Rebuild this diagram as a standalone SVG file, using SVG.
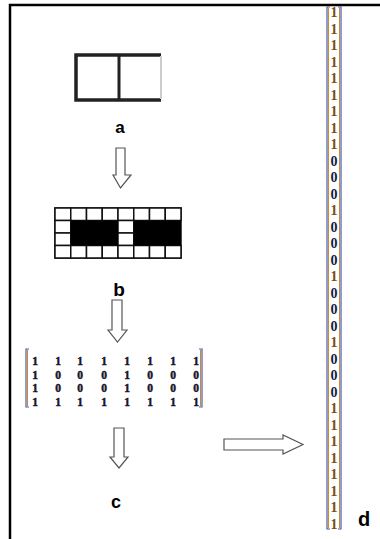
<svg xmlns="http://www.w3.org/2000/svg" width="380" height="539" viewBox="0 0 380 539">
<style>
.lbl{font-family:"Liberation Sans",Arial,sans-serif;font-weight:bold;fill:#000}
.dg{font-family:"Liberation Serif","Times New Roman",serif;font-weight:bold;font-size:14px;text-anchor:middle}
.dm{font-family:"Liberation Serif","Times New Roman",serif;font-weight:bold;font-size:11.5px;text-anchor:middle;fill:#15152a;stroke:#15152a;stroke-width:0.45}
.o{fill:#7a4c14}
.z{fill:#0e1e48}
.arr{fill:#fff;stroke:#555;stroke-width:1.2}
.brb{fill:none;stroke:#4a5aa8;stroke-width:1.2}
.bro{fill:none;stroke:#d08a30;stroke-width:1}
.cell{fill:#fff;stroke:#111;stroke-width:1.5}
</style>
<rect x="0" y="0" width="380" height="539" fill="#fff"/>
<g id="frame">
<path d="M10 539 V5 H380" fill="none" stroke="#000" stroke-width="2.5"/>
</g>
<g id="node-a">
<path d="M161 55 H76 V100 H161" fill="none" stroke="#222" stroke-width="3.5"/>
<line x1="119" y1="55" x2="119" y2="100" stroke="#222" stroke-width="3"/>
<line x1="161" y1="56" x2="161" y2="99" stroke="#ccc" stroke-width="2"/>
<text class="lbl" x="120" y="133" font-size="17" text-anchor="middle">a</text>
</g>
<g id="node-b">
<rect x="55" y="208" width="126" height="50" fill="#fff" stroke="#111" stroke-width="1.5"/>
<g class="cells">
<rect class="cell" x="55" y="208" width="15.75" height="12.5"/>
<rect class="cell" x="70.75" y="208" width="15.75" height="12.5"/>
<rect class="cell" x="86.5" y="208" width="15.75" height="12.5"/>
<rect class="cell" x="102.25" y="208" width="15.75" height="12.5"/>
<rect class="cell" x="118" y="208" width="15.75" height="12.5"/>
<rect class="cell" x="133.75" y="208" width="15.75" height="12.5"/>
<rect class="cell" x="149.5" y="208" width="15.75" height="12.5"/>
<rect class="cell" x="165.25" y="208" width="15.75" height="12.5"/>
<rect class="cell" x="55" y="220.5" width="15.75" height="12.5"/>
<rect class="cell" x="55" y="233" width="15.75" height="12.5"/>
<rect class="cell" x="118" y="220.5" width="15.75" height="12.5"/>
<rect class="cell" x="118" y="233" width="15.75" height="12.5"/>
<rect class="cell" x="55" y="245.5" width="15.75" height="12.5"/>
<rect class="cell" x="70.75" y="245.5" width="15.75" height="12.5"/>
<rect class="cell" x="86.5" y="245.5" width="15.75" height="12.5"/>
<rect class="cell" x="102.25" y="245.5" width="15.75" height="12.5"/>
<rect class="cell" x="118" y="245.5" width="15.75" height="12.5"/>
<rect class="cell" x="133.75" y="245.5" width="15.75" height="12.5"/>
<rect class="cell" x="149.5" y="245.5" width="15.75" height="12.5"/>
<rect class="cell" x="165.25" y="245.5" width="15.75" height="12.5"/>
</g>
<rect x="70.75" y="220.5" width="47.25" height="25" fill="#000"/>
<rect x="133.75" y="220.5" width="47.25" height="25" fill="#000"/>
<text class="lbl" x="119" y="296" font-size="19" text-anchor="middle">b</text>
</g>
<g id="node-c">
<path class="brb" d="M29 349 H26 V407 H29"/>
<path class="bro" d="M27.5 350 V406"/>
<path class="brb" d="M199 349 H202 V407 H199"/>
<path class="bro" d="M200.5 350 V406"/>
<g class="dm">
<text x="35" y="365">1</text><text x="58" y="365">1</text><text x="80" y="365">1</text><text x="104" y="365">1</text><text x="127" y="365">1</text><text x="150" y="365">1</text><text x="173" y="365">1</text><text x="196" y="365">1</text>
<text x="35" y="378.5">1</text><text x="58" y="378.5">0</text><text x="80" y="378.5">0</text><text x="104" y="378.5">0</text><text x="127" y="378.5">1</text><text x="150" y="378.5">0</text><text x="173" y="378.5">0</text><text x="196" y="378.5">0</text>
<text x="35" y="392">1</text><text x="58" y="392">0</text><text x="80" y="392">0</text><text x="104" y="392">0</text><text x="127" y="392">1</text><text x="150" y="392">0</text><text x="173" y="392">0</text><text x="196" y="392">0</text>
<text x="35" y="405.5">1</text><text x="58" y="405.5">1</text><text x="80" y="405.5">1</text><text x="104" y="405.5">1</text><text x="127" y="405.5">1</text><text x="150" y="405.5">1</text><text x="173" y="405.5">1</text><text x="196" y="405.5">1</text>
</g>
<text class="lbl" x="116" y="508" font-size="18" text-anchor="middle">c</text>
</g>
<g id="node-d">
<path class="brb" d="M330 7 H327 V529 H330"/>
<path class="bro" d="M328.5 8 V528"/>
<path class="brb" d="M338 7 H341 V529 H338"/>
<path class="bro" d="M339.5 8 V528"/>
<g class="dg">
<text class="o" x="334" y="17">1</text>
<text class="o" x="334" y="33.5">1</text>
<text class="o" x="334" y="50">1</text>
<text class="o" x="334" y="66.5">1</text>
<text class="o" x="334" y="83">1</text>
<text class="o" x="334" y="99.5">1</text>
<text class="o" x="334" y="116">1</text>
<text class="o" x="334" y="132.5">1</text>
<text class="o" x="334" y="149">1</text>
<text class="z" x="334" y="165.5">0</text>
<text class="z" x="334" y="182">0</text>
<text class="z" x="334" y="198.5">0</text>
<text class="o" x="334" y="215">1</text>
<text class="z" x="334" y="231.5">0</text>
<text class="z" x="334" y="248">0</text>
<text class="z" x="334" y="264.5">0</text>
<text class="o" x="334" y="281">1</text>
<text class="z" x="334" y="297.5">0</text>
<text class="z" x="334" y="314">0</text>
<text class="z" x="334" y="330.5">0</text>
<text class="o" x="334" y="347">1</text>
<text class="z" x="334" y="363.5">0</text>
<text class="z" x="334" y="380">0</text>
<text class="z" x="334" y="396.5">0</text>
<text class="o" x="334" y="413">1</text>
<text class="o" x="334" y="429.5">1</text>
<text class="o" x="334" y="446">1</text>
<text class="o" x="334" y="462.5">1</text>
<text class="o" x="334" y="479">1</text>
<text class="o" x="334" y="495.5">1</text>
<text class="o" x="334" y="512">1</text>
<text class="o" x="334" y="528.5">1</text>
</g>
<text class="lbl" x="364" y="526" font-size="20" text-anchor="middle">d</text>
</g>
<g id="connectors">
<path class="arr" d="M116 148 H125 V175 H131 L120.5 188 L113 175 H116 Z"/>
<path class="arr" d="M112 300 H122 V330 H127 L117.5 342 L108 330 H112 Z"/>
<path class="arr" d="M114 428 H124 V457 H128 L119 468 L110 457 H114 Z"/>
<path class="arr" d="M224 439 H283 V435 L303 444.5 L283 454 V450 H224 Z"/>
</g>
</svg>
